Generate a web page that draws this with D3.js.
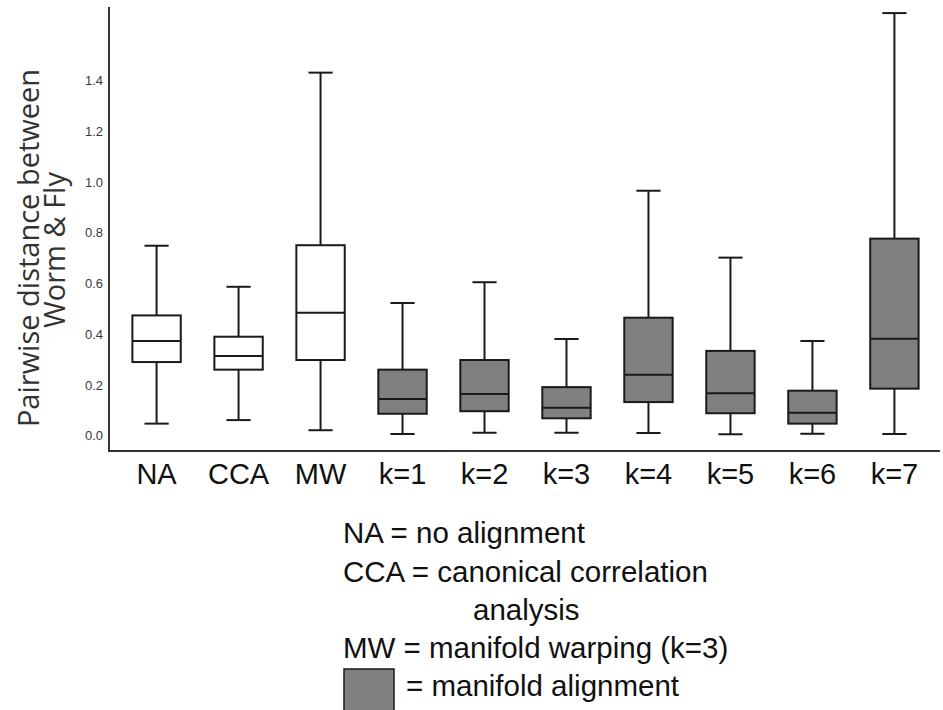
<!DOCTYPE html>
<html>
<head>
<meta charset="utf-8">
<script src="https://cdn.jsdelivr.net/npm/d3@7"></script>
<style>
  body { margin: 0; background: #fff; }
  svg { display: block; }
</style>
</head>
<body>
<svg id="chart" width="943" height="710"></svg>
<script>
// categories and box stats
const categories = ["NA", "CCA", "MW", "k=1", "k=2", "k=3", "k=4", "k=5", "k=6", "k=7"];
const whiskerLow  = [0.041, 0.055, 0.015, 0.000, 0.005, 0.005, 0.004, -0.001, 0.001, 0.000];
const quart1      = [0.284, 0.254, 0.292, 0.080, 0.090, 0.062, 0.126, 0.082, 0.041, 0.179];
const medians     = [0.367, 0.308, 0.479, 0.138, 0.158, 0.104, 0.234, 0.161, 0.084, 0.376];
const quart3      = [0.468, 0.384, 0.745, 0.254, 0.292, 0.185, 0.459, 0.328, 0.171, 0.771];
const whiskerHigh = [0.743, 0.581, 1.426, 0.517, 0.599, 0.375, 0.960, 0.696, 0.367, 1.661];
const isManifold  = [false, false, false, true, true, true, true, true, true, true];
const yTicks = [0, 0.2, 0.4, 0.6, 0.8, 1.0, 1.2, 1.4];
const legendLines = [
  "NA = no alignment",
  "CCA = canonical correlation",
  "analysis",
  "MW = manifold warping (k=3)",
  "= manifold alignment"
];

const boxes = categories.map((c, i) => ({
  name: c, lo: whiskerLow[i], q1: quart1[i], med: medians[i],
  q3: quart3[i], hi: whiskerHigh[i], filled: isManifold[i]
}));

const svg = d3.select("#chart");
const plotLeft = 109, plotRight = 940, plotTop = 7, plotBottom = 451;

const x = d3.scaleBand()
    .domain(categories)
    .range([116, 935])
    .paddingInner(0.41)
    .paddingOuter(0.2);

const y = d3.scaleLinear()
    .domain([-0.067, 1.685])
    .range([plotBottom, plotTop]);

const stroke = "#1a1a1a";

// axis lines, no tick marks
svg.append("line")
    .attr("x1", plotLeft).attr("x2", plotLeft)
    .attr("y1", plotTop).attr("y2", plotBottom + 1)
    .attr("stroke", "#333").attr("stroke-width", 2);
svg.append("line")
    .attr("x1", plotLeft).attr("x2", plotRight)
    .attr("y1", plotBottom).attr("y2", plotBottom)
    .attr("stroke", "#333").attr("stroke-width", 2);

// y tick labels
const yAxis = svg.append("g")
    .attr("transform", "translate(103,1.5)")
    .call(d3.axisLeft(y).tickValues(yTicks).tickFormat(d3.format(".1f")).tickSize(0).tickPadding(0));
yAxis.select(".domain").remove();
yAxis.selectAll("text")
    .attr("font-family", "Liberation Sans, Arial, sans-serif")
    .attr("font-size", 13)
    .attr("fill", "#3a3a3a");

// y title (two lines)
const yTitle = svg.append("g")
    .attr("font-family", "Open Sans, Noto Sans, sans-serif")
    .attr("font-size", 29)
    .attr("fill", "#333")
    .attr("text-anchor", "middle");
yTitle.append("text")
    .attr("transform", "translate(39,248) rotate(-90)")
    .text("Pairwise distance between");
yTitle.append("text")
    .attr("transform", "translate(65,250) rotate(-90)")
    .text("Worm & Fly");

// boxes
const g = svg.append("g")
    .selectAll("g")
    .data(boxes)
    .join("g")
    .attr("transform", d => "translate(" + x(d.name) + ",0)");

const bw = x.bandwidth();
const cx = bw / 2;
const cap = bw / 2;

g.append("line")
    .attr("x1", cx).attr("x2", cx)
    .attr("y1", d => y(d.hi)).attr("y2", d => y(d.q3))
    .attr("stroke", stroke).attr("stroke-width", 2);
g.append("line")
    .attr("x1", cx).attr("x2", cx)
    .attr("y1", d => y(d.q1)).attr("y2", d => y(d.lo))
    .attr("stroke", stroke).attr("stroke-width", 2);
g.append("line")
    .attr("x1", cx - cap / 2).attr("x2", cx + cap / 2)
    .attr("y1", d => y(d.hi)).attr("y2", d => y(d.hi))
    .attr("stroke", stroke).attr("stroke-width", 2);
g.append("line")
    .attr("x1", cx - cap / 2).attr("x2", cx + cap / 2)
    .attr("y1", d => y(d.lo)).attr("y2", d => y(d.lo))
    .attr("stroke", stroke).attr("stroke-width", 2);
g.append("rect")
    .attr("x", 0).attr("width", bw)
    .attr("y", d => y(d.q3))
    .attr("height", d => y(d.q1) - y(d.q3))
    .attr("fill", d => d.filled ? "#808080" : "#fff")
    .attr("stroke", stroke).attr("stroke-width", 2);
g.append("line")
    .attr("x1", 0).attr("x2", bw)
    .attr("y1", d => y(d.med)).attr("y2", d => y(d.med))
    .attr("stroke", stroke).attr("stroke-width", 2);

// x labels
svg.append("g")
    .selectAll("text")
    .data(categories)
    .join("text")
    .attr("x", d => x(d) + bw / 2)
    .attr("y", 484)
    .attr("text-anchor", "middle")
    .attr("font-family", "Liberation Sans, Arial, sans-serif")
    .attr("font-size", 29)
    .attr("fill", "#111")
    .text(d => d);

// legend
const legX = [343, 343, 473, 343, 406];
const legY = [543, 582, 620, 658, 696];
svg.append("g")
    .selectAll("text")
    .data(legendLines)
    .join("text")
    .attr("x", (d, i) => legX[i])
    .attr("y", (d, i) => legY[i])
    .attr("font-family", "Liberation Sans, Arial, sans-serif")
    .attr("font-size", 29.5)
    .attr("fill", "#111")
    .text(d => d);

svg.append("rect")
    .attr("x", 344).attr("y", 669)
    .attr("width", 50).attr("height", 50)
    .attr("fill", "#808080")
    .attr("stroke", stroke).attr("stroke-width", 1.5);
</script>
</body>
</html>
